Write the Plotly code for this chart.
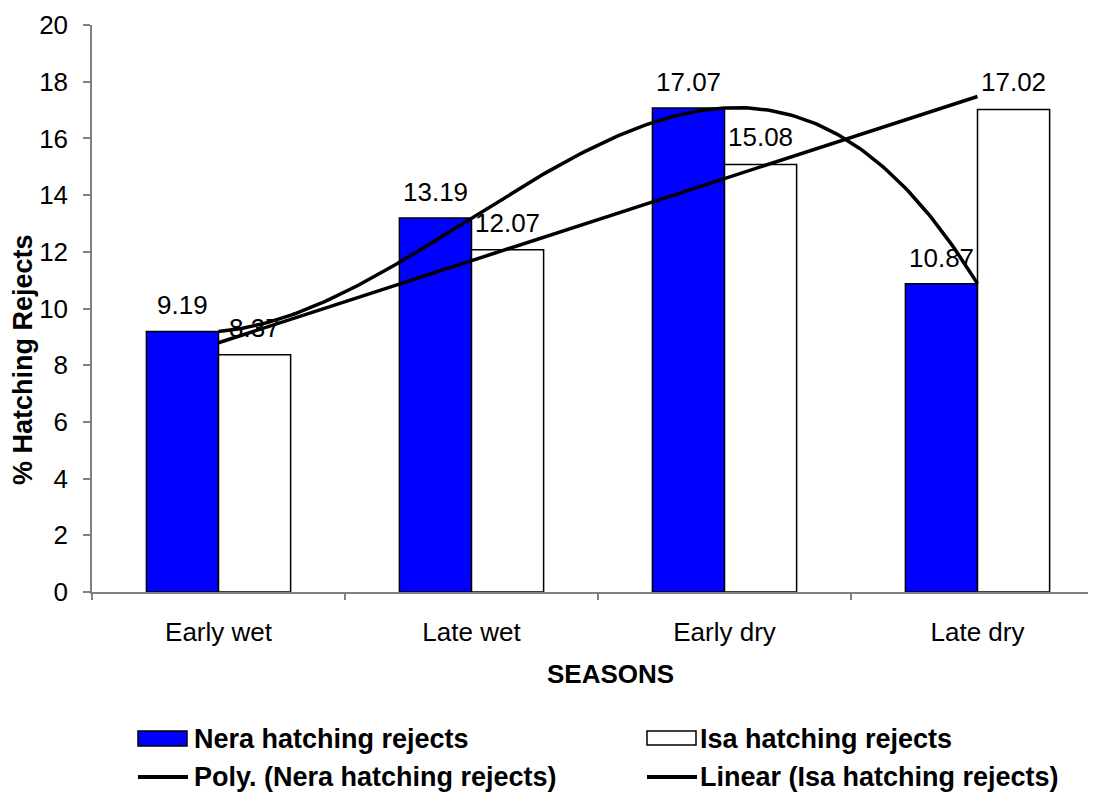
import numpy as np
import plotly.graph_objects as go

# ---- data ----
categories = ["Early wet", "Late wet", "Early dry", "Late dry"]
nera = [9.19, 13.19, 17.07, 10.87]
isa = [8.37, 12.07, 15.08, 17.02]
nera_name = "Nera hatching rejects"
isa_name = "Isa hatching rejects"
poly_name = "Poly. (Nera hatching rejects)"
lin_name = "Linear (Isa hatching rejects)"
y_ticks = list(range(0, 21, 2))

# ---- layout constants ----
OFF = 8  # browser default body margin
W, H = 1096 - OFF, 793 - OFF
L, R, T, B = 92 - OFF, 0, 25 - OFF, 201
FONT = "Liberation Sans, Arial, sans-serif"
FS = 26
FSB = 27
BARGAP = 0.43
bw = (1 - BARGAP) / 2

xi = np.arange(len(categories))

# trendlines (Excel-style): polynomial order 3 on Nera, linear on Isa
pc = np.polyfit(xi, nera, 3)
lc = np.polyfit(xi, isa, 1)
xs = np.linspace(xi[0], xi[-1], 200)

fig = go.Figure()
fig.add_trace(go.Bar(x=xi, y=nera, name=nera_name, marker=dict(color="#0000FF", line=dict(color="black", width=1.5))))
fig.add_trace(go.Bar(x=xi, y=isa, name=isa_name, marker=dict(color="white", line=dict(color="black", width=1.5))))
fig.add_trace(go.Scatter(x=xs, y=np.polyval(pc, xs), mode="lines", name=poly_name, line=dict(color="black", width=3.5)))
fig.add_trace(go.Scatter(x=xi, y=np.polyval(lc, xi), mode="lines", name=lin_name, line=dict(color="black", width=3.5)))

ann = []
for i, v in enumerate(nera):
    ann.append(dict(x=i - bw / 2, y=v, text=f"{v:.2f}", showarrow=False, yshift=26, font=dict(size=FS, color="black", family=FONT)))
for i, v in enumerate(isa):
    ann.append(dict(x=i + bw / 2, y=v, text=f"{v:.2f}", showarrow=False, yshift=27, font=dict(size=FS, color="black", family=FONT)))

pw = W - L - R
ph = H - T - B
# convert reference-page pixel positions to paper coordinates
def px(x):
    return (x - OFF - L) / pw
def py(y):
    return (H - B - (y - OFF)) / ph

shapes = [
    dict(type="rect", xref="paper", yref="paper", x0=px(138), x1=px(187), y0=py(746), y1=py(731), fillcolor="#0000FF", line=dict(color="black", width=1.5)),
    dict(type="rect", xref="paper", yref="paper", x0=px(647), x1=px(696), y0=py(745), y1=py(731), fillcolor="white", line=dict(color="black", width=1.5)),
    dict(type="line", xref="paper", yref="paper", x0=px(138), x1=px(188), y0=py(777), y1=py(777), line=dict(color="black", width=4)),
    dict(type="line", xref="paper", yref="paper", x0=px(647), x1=px(697), y0=py(777), y1=py(777), line=dict(color="black", width=4)),
]
leg = [(192, 739, nera_name), (698, 739, isa_name), (192, 777, poly_name), (698, 777, lin_name)]
for lx, ly, t in leg:
    ann.append(dict(xref="paper", yref="paper", x=px(lx), y=py(ly), xanchor="left", yanchor="middle", showarrow=False,
                    text=f"<b>{t}</b>", font=dict(size=FSB, color="black", family=FONT)))

# axis titles (placed as in the reference, off-centre)
ann.append(dict(xref="paper", yref="paper", x=px(23), y=py(360), xanchor="center", yanchor="middle", showarrow=False,
                textangle=-90, text="<b>% Hatching Rejects</b>", font=dict(size=FSB, color="black", family=FONT)))
ann.append(dict(xref="paper", yref="paper", x=px(610), y=py(674), xanchor="center", yanchor="middle", showarrow=False,
                text="<b>SEASONS</b>", font=dict(size=FS, color="black", family=FONT)))

fig.update_layout(
    width=W, height=H,
    margin=dict(l=L, r=R, t=T, b=B, autoexpand=False),
    paper_bgcolor="white", plot_bgcolor="white",
    barmode="group", bargap=BARGAP, bargroupgap=0,
    showlegend=False,
    font=dict(family=FONT, size=FS, color="black"),
    annotations=ann, shapes=shapes,
    xaxis=dict(
        automargin=False,
        range=[-0.5, -0.5 + (1096 - 92) / 253], tickvals=list(xi), ticktext=categories, ticks="",
        showline=True, linecolor="#808080", linewidth=1.5, showgrid=False, zeroline=False,
        minor=dict(tickvals=[-0.5, 0.5, 1.5, 2.5, 3.5], ticks="outside", ticklen=6, tickcolor="#808080", tickwidth=1.5, showgrid=False),
        tickfont=dict(size=FS, family=FONT), ticklabelstandoff=16,
    ),
    yaxis=dict(
        automargin=False,
        range=[0, 20], tickvals=y_ticks, ticks="outside", ticklen=7, tickcolor="#808080", tickwidth=1.5,
        showline=True, linecolor="#808080", linewidth=1.5, showgrid=False, zeroline=False,
        tickfont=dict(size=FS, family=FONT), ticklabelstandoff=10,
    ),
)

fig.write_html("out.html")
